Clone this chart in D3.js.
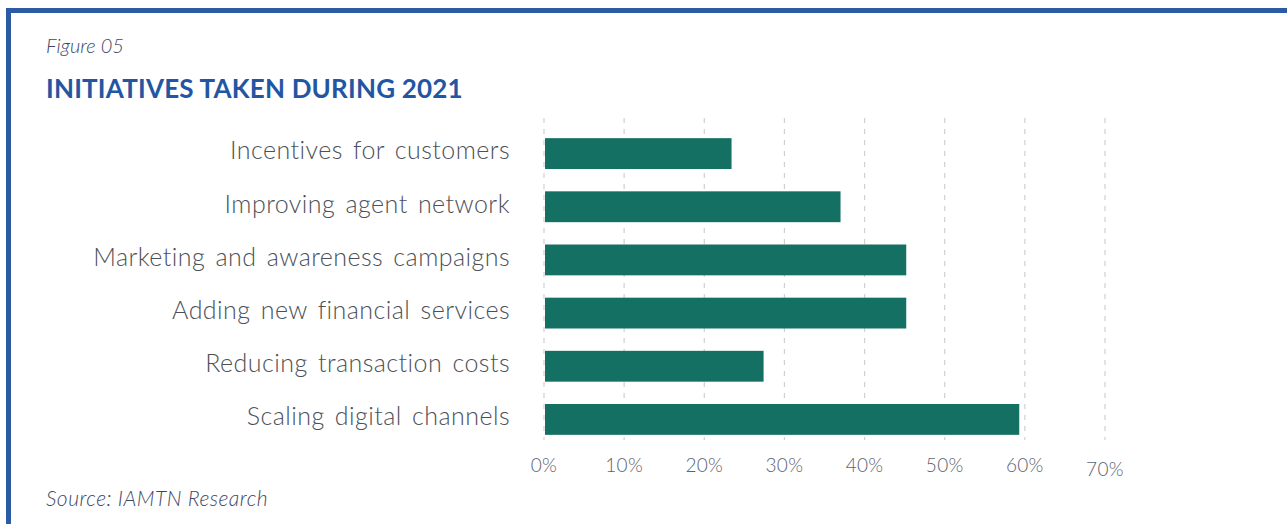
<!DOCTYPE html>
<html lang="en">
<head>
<meta charset="UTF-8">
<title>Initiatives taken during 2021</title>
<script src="https://d3js.org/d3.v7.min.js"></script>
<style>
    body { margin: 0; background: #ffffff; font-family: Lato, "Open Sans", sans-serif; }
    svg { display: block; }
    .cat { font-size: 25px; font-weight: 300; fill: #4c5158; word-spacing: 3px; letter-spacing: 0.45px; }
    .tick-label { font-size: 19px; font-weight: 300; fill: #5c6372; letter-spacing: 0.3px; }
    .grid line { stroke: #d0d0d0; stroke-width: 1.2; stroke-dasharray: 5 6; }
</style>
</head>
<body>
<svg width="1287" height="524"></svg>
<script>
    const categories = [
        "Incentives for customers",
        "Improving agent network",
        "Marketing and awareness campaigns",
        "Adding new financial services",
        "Reducing transaction costs",
        "Scaling digital channels"
    ];
    const values = [23.4, 37.0, 45.2, 45.2, 27.4, 59.3];
    const ticks = [0, 10, 20, 30, 40, 50, 60, 70];

    let svg = d3.select("svg");

    // frame
    svg.append("path")
        .attr("d", "M8.5,524 V10.5 H1287")
        .attr("fill", "none")
        .attr("stroke", "#2b5ba3")
        .attr("stroke-width", 5);

    svg.append("text")
        .attr("x", 46).attr("y", 53)
        .attr("font-size", 20).attr("font-style", "italic").attr("font-weight", 300)
        .attr("fill", "#3e4866")
        .text("Figure 05");

    svg.append("text")
        .attr("x", 46).attr("y", 98)
        .attr("font-size", 26).attr("font-weight", "bold")
        .attr("fill", "#2356a2")
        .attr("letter-spacing", 0.2)
        .text("INITIATIVES TAKEN DURING 2021");

    svg.append("text")
        .attr("x", 46).attr("y", 506)
        .attr("font-size", 21).attr("font-style", "italic").attr("font-weight", 300)
        .attr("fill", "#3e4866")
        .attr("letter-spacing", 0.5)
        .text("Source: IAMTN Research");

    let x = d3.scaleLinear().domain([0, 70]).range([544, 1105]);
    let y = d3.scaleBand().domain(categories).range([127, 446]).paddingInner(0.42).paddingOuter(0.21);

    let grid = svg.append("g").attr("class", "grid");
    grid.selectAll("line")
        .data(ticks)
        .enter().append("line")
        .attr("x1", d => x(d)).attr("x2", d => x(d))
        .attr("y1", 118).attr("y2", 440);

    svg.append("g")
        .selectAll("rect")
        .data(values)
        .enter().append("rect")
        .attr("x", x(0) + 1)
        .attr("y", (d, i) => y(categories[i]))
        .attr("width", d => x(d) - x(0) - 1)
        .attr("height", y.bandwidth())
        .attr("fill", "#147063");

    svg.append("g")
        .selectAll("text")
        .data(categories)
        .enter().append("text")
        .attr("class", "cat")
        .attr("x", 510)
        .attr("y", d => y(d) + y.bandwidth() / 2 - 3)
        .attr("dy", "0.35em")
        .attr("text-anchor", "end")
        .text(d => d);

    svg.append("g")
        .selectAll("text")
        .data(ticks)
        .enter().append("text")
        .attr("class", "tick-label")
        .attr("x", d => x(d))
        .attr("y", d => d === 70 ? 476 : 472)
        .attr("text-anchor", "middle")
        .text(d => d + "%");
</script>
</body>
</html>
